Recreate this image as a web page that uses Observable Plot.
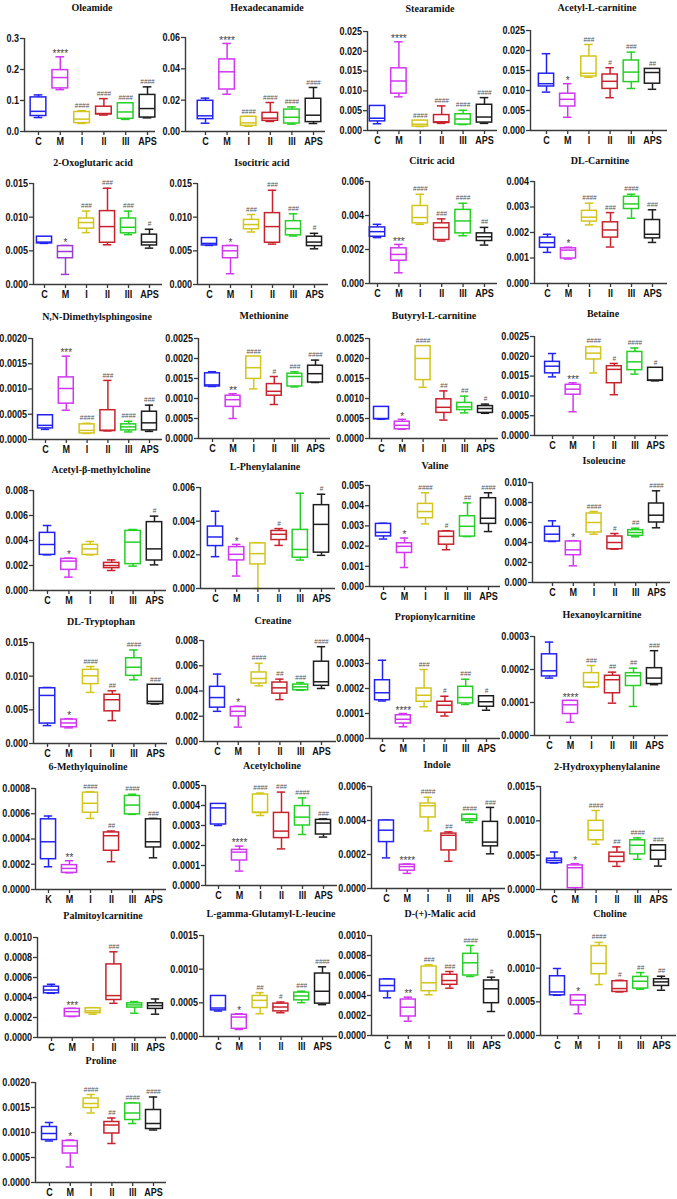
<!DOCTYPE html>
<html><head><meta charset="utf-8">
<script src="https://cdn.jsdelivr.net/npm/d3@7"></script>
<script src="https://cdn.jsdelivr.net/npm/@observablehq/plot@0.6"></script>
<style>
body{margin:0;background:#fff}
#root{position:relative;width:677px;height:1199px;overflow:hidden;background:#fff}
.title{position:absolute;transform:translate(-50%,-50%);font:bold 10px "Liberation Serif",serif;white-space:nowrap;color:#111}
</style></head>
<body><div id="root"></div>
<script>
// groups and colours
const groups = ["C","M","I","II","III","APS"];
const groupsK = ["K","M","I","II","III","APS"];
const groupColors = ["#2323f0","#d236f2","#d2c51c","#c8232d","#26d026","#1e1e1e"];

// each row: [min, q1, median, q3, max] for C, M, I, II, III, APS
const oleamide = [[0.045,0.050,0.065,0.110,0.118],[0.135,0.139,0.174,0.198,0.241],[0.026,0.027,0.040,0.063,0.067],[0.053,0.055,0.058,0.080,0.106],[0.039,0.041,0.063,0.091,0.091],[0.044,0.045,0.074,0.118,0.144]];
const oleamideSig = ["","****","####","####","####","####"];
const hexadecanamide = [[0.0053,0.0079,0.0100,0.0196,0.0213],[0.0238,0.0268,0.0381,0.0460,0.0562],[0.0034,0.0036,0.0055,0.0094,0.0096],[0.0064,0.0068,0.0085,0.0119,0.0185],[0.0047,0.0051,0.0091,0.0140,0.0157],[0.0051,0.0060,0.0104,0.0209,0.0281]];
const hexadecanamideSig = ["","****","####","####","####","####"];
const stearamide = [[0.0017,0.0023,0.0031,0.0062,0.0062],[0.0085,0.0093,0.0125,0.0157,0.0224],[0.0010,0.0010,0.0016,0.0025,0.0025],[0.0018,0.0019,0.0022,0.0039,0.0062],[0.0015,0.0015,0.0029,0.0041,0.0051],[0.0018,0.0020,0.0034,0.0065,0.0083]];
const stearamideSig = ["","****","####","####","####","####"];
const acetylLCarnitine = [[0.0096,0.0110,0.0117,0.0142,0.0192],[0.0033,0.0060,0.0078,0.0092,0.0117],[0.0133,0.0135,0.0143,0.0185,0.0215],[0.0082,0.0104,0.0123,0.0140,0.0157],[0.0105,0.0121,0.0146,0.0175,0.0196],[0.0103,0.0117,0.0145,0.0154,0.0154]];
const acetylLCarnitineSig = ["","*","###","#","###","##"];
const oxoglutaric = [[0.0061,0.0061,0.0063,0.0071,0.0071],[0.0015,0.0039,0.0049,0.0057,0.0058],[0.0077,0.0083,0.0092,0.0098,0.0109],[0.0059,0.0062,0.0086,0.0109,0.0143],[0.0074,0.0076,0.0085,0.0098,0.0109],[0.0054,0.0058,0.0063,0.0074,0.0082]];
const oxoglutaricSig = ["","*","###","###","###","#"];
const isocitric = [[0.0058,0.0058,0.0061,0.0069,0.0069],[0.0016,0.0039,0.0050,0.0057,0.0058],[0.0078,0.0082,0.0089,0.0096,0.0104],[0.0060,0.0062,0.0086,0.0106,0.0140],[0.0072,0.0073,0.0083,0.0094,0.0105],[0.0053,0.0057,0.0063,0.0071,0.0076]];
const isocitricSig = ["","*","###","###","###","#"];
const citric = [[0.0027,0.00275,0.00305,0.0033,0.00348],[0.00063,0.00134,0.00171,0.00207,0.0023],[0.00348,0.00354,0.00388,0.00456,0.00525],[0.0025,0.00256,0.00329,0.00354,0.0038],[0.00281,0.00295,0.00368,0.00433,0.00472],[0.00226,0.0025,0.00275,0.00295,0.0033]];
const citricSig = ["","***","####","###","####","##"];
const dlCarnitine = [[0.00122,0.0014,0.0016,0.0018,0.00193],[0.00096,0.00098,0.00131,0.00138,0.00142],[0.0023,0.00243,0.0026,0.00285,0.00315],[0.00143,0.0018,0.0021,0.0024,0.00278],[0.00256,0.00292,0.00312,0.0034,0.0035],[0.00161,0.00177,0.00193,0.00249,0.00289]];
const dlCarnitineSig = ["","*","####","###","####","###"];
const dimethylsphingosine = [[0.0002,0.00022,0.00028,0.00048,0.00048],[0.00058,0.00071,0.00101,0.00123,0.00165],[0.00012,0.00012,0.00018,0.0003,0.00032],[0.00017,0.00017,0.00018,0.00058,0.00117],[0.00015,0.00018,0.00025,0.0003,0.00036],[0.00016,0.00018,0.00033,0.00055,0.00068]];
const dimethylsphingosineSig = ["","***","####","###","####","###"];
const methionine = [[0.0013,0.0013,0.00134,0.00163,0.00167],[0.0005,0.00079,0.00097,0.00107,0.00112],[0.00124,0.00149,0.00177,0.00205,0.00205],[0.00085,0.00107,0.00118,0.00136,0.00155],[0.00129,0.0013,0.00155,0.00162,0.00167],[0.0014,0.0014,0.00162,0.00182,0.00196]];
const methionineSig = ["","**","####","#","###","####"];
const butyrylLCarnitine = [[0.00048,0.00048,0.0005,0.00079,0.00079],[0.00023,0.00023,0.00033,0.00042,0.00048],[0.00128,0.00146,0.002,0.00231,0.00231],[0.00046,0.00064,0.00078,0.00098,0.00119],[0.00064,0.00071,0.00079,0.00089,0.00106],[0.00063,0.00064,0.00075,0.00081,0.00086]];
const butyrylLCarnitineSig = ["","*","####","##","##","#"];
const betaine = [[0.00148,0.00157,0.00175,0.00186,0.00207],[0.0006,0.00103,0.00117,0.00128,0.00133],[0.00158,0.00192,0.00208,0.00223,0.00225],[0.00103,0.00132,0.00167,0.00175,0.00182],[0.00155,0.00165,0.00186,0.00211,0.00221],[0.00138,0.00138,0.0014,0.00171,0.00171]];
const betaineSig = ["","***","####","#","####","#"];
const acetylBetaMethylcholine = [[0.00285,0.00285,0.00368,0.00461,0.0052],[0.00107,0.00165,0.00235,0.00253,0.00259],[0.00285,0.00285,0.00333,0.00365,0.00392],[0.0016,0.00179,0.002,0.00221,0.00245],[0.00195,0.00211,0.00387,0.00477,0.00488],[0.00205,0.0024,0.00333,0.00547,0.00595]];
const acetylBetaMethylcholineSig = ["","*","","","","#"];
const lPhenylalanine = [[0.00189,0.00252,0.00306,0.00368,0.00459],[0.00074,0.00167,0.00203,0.00246,0.00262],[0,0.00143,0.00207,0.00268,0.00272],[0.00256,0.00288,0.00322,0.00342,0.00356],[0.00169,0.00183,0.00232,0.00348,0.00566],[0.00197,0.00213,0.00381,0.00495,0.0056]];
const lPhenylalanineSig = ["","*","","#","","#"];
const valine = [[0.00235,0.00248,0.00268,0.0031,0.00313],[0.00094,0.00166,0.00199,0.00214,0.0024],[0.0031,0.00338,0.00371,0.00409,0.00464],[0.00182,0.00207,0.00248,0.00272,0.00276],[0.00247,0.00247,0.00298,0.00348,0.00414],[0.00272,0.0031,0.00338,0.00437,0.00464]];
const valineSig = ["","*","####","#","##","####"];
const isoleucine = [[0.0041,0.0041,0.00483,0.00557,0.00617],[0.00167,0.00273,0.00327,0.0041,0.00417],[0.00483,0.005,0.006,0.0069,0.0071],[0.00333,0.00333,0.004,0.0046,0.0049],[0.00457,0.00467,0.005,0.00523,0.00543],[0.00547,0.006,0.00673,0.0079,0.00917]];
const isoleucineSig = ["","*","####","#","##","####"];
const dlTryptophan = [[0.00266,0.00296,0.00714,0.0082,0.00832],[0.00232,0.00241,0.00305,0.00355,0.00369],[0.00759,0.00882,0.01005,0.01094,0.01143],[0.0034,0.00478,0.0065,0.00724,0.00783],[0.00946,0.01005,0.01133,0.01266,0.01389],[0.00586,0.00586,0.00626,0.00872,0.00872]];
const dlTryptophanSig = ["","*","####","##","####","###"];
const creatine = [[0.00239,0.00268,0.00348,0.00433,0.00534],[0.00114,0.00199,0.00239,0.00273,0.00279],[0.00441,0.00459,0.00499,0.00547,0.00619],[0.00332,0.00379,0.00425,0.00467,0.00494],[0.00406,0.00406,0.00433,0.00451,0.00467],[0.0042,0.00441,0.00473,0.00632,0.00751]];
const creatineSig = ["","*","####","##","###","####"];
const propionylcarnitine = [[0.00015,0.000153,0.000183,0.000233,0.000313],[0.000047,0.00006,0.000077,0.000093,0.0001],[0.000127,0.000147,0.000173,0.0002,0.000276],[0.00009,0.000103,0.000133,0.000147,0.000169],[0.000136,0.00014,0.000164,0.000207,0.000237],[0.000113,0.000127,0.000147,0.000169,0.000169]];
const propionylcarnitineSig = ["","****","###","#","###","#"];
const hexanoylcarnitine = [[0.000174,0.000179,0.000196,0.000246,0.000283],[0.00004,0.000065,0.000093,0.000105,0.000106],[0.000146,0.000146,0.000161,0.000189,0.000212],[0.000098,0.000128,0.000169,0.000181,0.000192],[0.000088,0.00015,0.000181,0.000189,0.000204],[0.000154,0.000156,0.000174,0.000204,0.000257]];
const hexanoylcarnitineSig = ["","****","###","##","##","###"];
const methylquinoline = [[0.00018,0.00024,0.000378,0.000556,0.000582],[0.000132,0.000132,0.000167,0.000193,0.000228],[0.000563,0.000608,0.000683,0.000767,0.000775],[0.00022,0.000307,0.000426,0.000452,0.000463],[0.000595,0.000595,0.000669,0.000741,0.000754],[0.000251,0.000333,0.000378,0.000556,0.000563]];
const methylquinolineSig = ["","**","####","##","####","###"];
const acetylcholine = [[0.0003,0.000305,0.000388,0.000408,0.000408],[0.000072,0.000125,0.000167,0.000178,0.000197],[0.00035,0.000362,0.000367,0.000455,0.000462],[0.000183,0.000237,0.000272,0.000363,0.000467],[0.000255,0.0003,0.000342,0.000397,0.000438],[0.000242,0.000255,0.000312,0.000328,0.000333]];
const acetylcholineSig = ["","****","####","###","####","###"];
const indole = [[0.00018,0.000273,0.000343,0.0004,0.000402],[0.000089,0.000105,0.000129,0.00014,0.000144],[0.000339,0.000418,0.000487,0.0005,0.000537],[0.00016,0.000224,0.000313,0.000323,0.000333],[0.000388,0.000398,0.00041,0.000434,0.000436],[0.000204,0.000248,0.000273,0.000392,0.000477]];
const indoleSig = ["","****","####","##","####","###"];
const hydroxyphenylalanine = [[0.000385,0.000385,0.000424,0.000449,0.000546],[0,0.00002,0.000317,0.000351,0.000376],[0.000659,0.000717,0.000863,0.001,0.00115],[0.000337,0.0004,0.000483,0.000537,0.00062],[0.000439,0.000512,0.000644,0.000717,0.000751],[0.000341,0.000434,0.000571,0.000644,0.000644]];
const hydroxyphenylalanineSig = ["","*","####","##","####","###"];
const palmitoylcarnitine = [[0.000442,0.000442,0.000475,0.000508,0.000532],[0.000209,0.000209,0.000259,0.000286,0.000292],[0.000233,0.000243,0.000266,0.000292,0.000299],[0.000342,0.000375,0.000419,0.000731,0.000857],[0.000243,0.000299,0.000326,0.000342,0.000359],[0.000233,0.000286,0.000319,0.000342,0.000385]];
const palmitoylcarnitineSig = ["","***","","###","",""];
const glutamylLeucine = [[0.000378,0.000388,0.000423,0.000602,0.000602],[0.000104,0.000114,0.000289,0.000323,0.000338],[0.000338,0.000423,0.000537,0.000602,0.000652],[0.000353,0.000373,0.000438,0.000488,0.000512],[0.000502,0.000537,0.000602,0.000652,0.000672],[0.000473,0.000488,0.000672,0.000935,0.001035]];
const glutamylLeucineSig = ["","*","##","#","###","####"];
const malicAcid = [[0.000377,0.00044,0.0005,0.00056,0.000567],[0.000143,0.00019,0.000283,0.00036,0.000383],[0.000407,0.000443,0.000527,0.00069,0.000707],[0.000473,0.000507,0.00055,0.000607,0.00064],[0.00059,0.0006,0.000727,0.000817,0.0009],[0.00024,0.000323,0.000467,0.00055,0.000583]];
const malicAcidSig = ["","**","###","###","####","#"];
const choline = [[0.000597,0.000597,0.000647,0.00088,0.000995],[0.000323,0.000448,0.000522,0.000597,0.000607],[0.000756,0.00091,0.00107,0.001328,0.001383],[0.000647,0.000647,0.000697,0.000806,0.00082],[0.000687,0.000697,0.000806,0.00087,0.000935],[0.000672,0.000736,0.000796,0.000836,0.00088]];
const cholineSig = ["","*","####","#","##","##"];
const proline = [[0.00083,0.00085,0.00098,0.00111,0.0012],[0.00031,0.00058,0.00073,0.00083,0.00085],[0.00139,0.00149,0.00158,0.00168,0.00176],[0.00078,0.00098,0.00115,0.00121,0.00129],[0.00118,0.00125,0.00139,0.00158,0.00159],[0.00105,0.00107,0.00118,0.00145,0.00171]];
const prolineSig = ["","*","####","##","####","####"];

// titles, y-axis maxima and tick steps
const titles = ["Oleamide","Hexadecanamide","Stearamide","Acetyl-L-carnitine","2-Oxoglutaric acid","Isocitric acid","Citric acid","DL-Carnitine","N,N-Dimethylsphingosine","Methionine","Butyryl-L-carnitine","Betaine","Acetyl-β-methylcholine","L-Phenylalanine","Valine","Isoleucine","DL-Tryptophan","Creatine","Propionylcarnitine","Hexanoylcarnitine","6-Methylquinoline","Acetylcholine","Indole","2-Hydroxyphenylalanine","Palmitoylcarnitine","L-gamma-Glutamyl-L-leucine","D-(+)-Malic acid","Choline","Proline"];
const yMax = [0.3,0.06,0.025,0.025,0.015,0.015,0.006,0.004,0.002,0.0025,0.0025,0.0025,0.008,0.006,0.005,0.01,0.015,0.008,0.0004,0.0003,0.0008,0.0005,0.0006,0.0015,0.001,0.0015,0.001,0.0015,0.002];
const yStep = [0.1,0.02,0.005,0.005,0.005,0.005,0.002,0.001,0.0005,0.0005,0.0005,0.0005,0.002,0.002,0.001,0.002,0.005,0.002,0.0001,0.0001,0.0002,0.0001,0.0002,0.0005,0.0002,0.0005,0.0002,0.0005,0.0005];
const series = [oleamide,hexadecanamide,stearamide,acetylLCarnitine,oxoglutaric,isocitric,citric,dlCarnitine,dimethylsphingosine,methionine,butyrylLCarnitine,betaine,acetylBetaMethylcholine,lPhenylalanine,valine,isoleucine,dlTryptophan,creatine,propionylcarnitine,hexanoylcarnitine,methylquinoline,acetylcholine,indole,hydroxyphenylalanine,palmitoylcarnitine,glutamylLeucine,malicAcid,choline,proline];
const sigs = [oleamideSig,hexadecanamideSig,stearamideSig,acetylLCarnitineSig,oxoglutaricSig,isocitricSig,citricSig,dlCarnitineSig,dimethylsphingosineSig,methionineSig,butyrylLCarnitineSig,betaineSig,acetylBetaMethylcholineSig,lPhenylalanineSig,valineSig,isoleucineSig,dlTryptophanSig,creatineSig,propionylcarnitineSig,hexanoylcarnitineSig,methylquinolineSig,acetylcholineSig,indoleSig,hydroxyphenylalanineSig,palmitoylcarnitineSig,glutamylLeucineSig,malicAcidSig,cholineSig,prolineSig];

// layout (page pixels): axis x, axis end x, first box x, last box x, top tick y, zero y, title x, title y
const layout = [
 [24,155,38,147,38,131,92,7],[185,325,205,313,37,131,267,7],[367,497,377,484,31,130,430,8],[530,667,546,652,30,130,597,7],
 [33,162,44,149,183,284,93,162],[197,328,209,314,183,284,262,162],[369,497,377,484,181,283,432,160],[534,667,547,652,181,283,600,160],
 [32,162,45,149,338,439,97,316],[198,330,212,315,338,438,264,315],[369,498,381,485,338,438,434,315],[534,668,552,655,336,435,603,313],
 [33,166,47,154,490,590,101,469],[200,335,215,321,487,588,265,466],[369,500,383,488,485,586,435,465],[532,670,552,656,482,582,604,460],
 [33,167,47,155,642,743,101,621],[203,336,217,321,640,741,273,620],[369,500,382,486,638,738,435,616],[534,668,549,654,636,735,602,614],
 [35,166,48,153,788,889,88,766],[205,337,218,323,785,885,272,765],[371,505,386,490,786,888,437,764],[540,672,554,658,786,889,607,766],
 [37,166,51,155,937,1037,103,915],[203,337,218,322,935,1036,271,913],[371,505,387,491,935,1035,440,913],[540,676,557,661,934,1035,610,913],
 [35,166,49,153,1082,1182,101,1060]
];

const tickFont = "'Liberation Sans', Arial, sans-serif";
const tickSize = 10.5;
const squeeze = 0.86;

const root = document.getElementById("root");
const mL = 44, mR = 4, mT = 22, mB = 24;
const axisColor = "#3a3a3a";

titles.forEach((title, k) => {
  const [x0, x1, cx, ax, yTop, y0, tx, ty] = layout[k];
  const step = (ax - cx) / 5;
  const d0 = -(cx - x0) / step, d1 = 5 + (x1 - ax) / step;
  const W = mL + (x1 - x0) + mR, H = mT + (y0 - yTop) + mB;
  const labels = k === 20 ? groupsK : groups;
  const colors = groupColors.slice();
  if (k === 4) colors[1] = "#9a3cd0";
  const rows = series[k].map((v, i) => ({i, min: v[0], q1: v[1], med: v[2], q3: v[3], max: v[4], sig: sigs[k][i], color: colors[i]}));
  const top = yMax[k], st = yStep[k];
  const ticks = Array.from({length: Math.round(top / st) + 1}, (_, j) => j * st);
  const fmt = d3.format("." + d3.precisionFixed(st) + "f");
  const bw = 0.36, cw = 0.2;
  const sw = 1.5;
  const svg = Plot.plot({
    width: W, height: H, marginLeft: mL, marginRight: mR, marginTop: mT, marginBottom: mB,
    x: {domain: [d0, d1]},
    y: {domain: [0, top]},
    color: {type: "identity"},
    style: {overflow: "visible", background: "transparent", fontFamily: tickFont, fontSize: tickSize + "px"},
    marks: [
      Plot.ruleX(rows, {x: "i", y1: "min", y2: "q1", stroke: "color", strokeWidth: sw}),
      Plot.ruleX(rows, {x: "i", y1: "q3", y2: "max", stroke: "color", strokeWidth: sw}),
      Plot.ruleY(rows, {y: "max", x1: d => d.i - cw, x2: d => d.i + cw, stroke: "color", strokeWidth: sw}),
      Plot.ruleY(rows, {y: "min", x1: d => d.i - cw, x2: d => d.i + cw, stroke: "color", strokeWidth: sw}),
      Plot.rect(rows, {x1: d => d.i - bw, x2: d => d.i + bw, y1: "q1", y2: "q3", stroke: "color", fill: "white", strokeWidth: sw}),
      Plot.ruleY(rows, {y: "med", x1: d => d.i - bw, x2: d => d.i + bw, stroke: "color", strokeWidth: sw}),
      Plot.text(rows.filter(d => d.sig.startsWith("*")), {x: "i", y: "max", text: "sig", dy: -3, fontSize: 10, fill: "#444", lineAnchor: "middle"}),
      Plot.text(rows.filter(d => d.sig.startsWith("#")), {x: "i", y: "max", text: "sig", dy: -5, fontSize: 6.5, fill: "#555", lineAnchor: "middle"}),
      Plot.ruleX([d0], {stroke: axisColor, strokeWidth: 1.4}),
      Plot.ruleY([0], {stroke: axisColor, strokeWidth: 1.4}),
      Plot.axisY({ticks, tickFormat: fmt, tickSize: 4, tickPadding: 1.5, stroke: axisColor, strokeWidth: 1.3, fill: "#111", fontWeight: "bold", fontSize: tickSize, label: null}),
      Plot.axisX({ticks: [0,1,2,3,4,5], tickFormat: i => labels[i], tickSize: 4, tickPadding: 2, stroke: axisColor, strokeWidth: 1.3, fill: "#111", fontWeight: "bold", fontSize: tickSize, label: null})
    ]
  });
  svg.style.position = "absolute";
  svg.style.left = (x0 - mL) + "px";
  svg.style.top = (yTop - mT) + "px";
  svg.style.maxWidth = "none";
  root.appendChild(svg);
  // condense the tick labels horizontally, like the narrow face of the original
  svg.querySelectorAll('g[aria-label="y-axis tick label"] text, g[aria-label="x-axis tick label"] text').forEach(t => {
    const len = t.getComputedTextLength();
    if (len > 0) {
      t.setAttribute("textLength", (len * squeeze).toFixed(2));
      t.setAttribute("lengthAdjust", "spacingAndGlyphs");
    }
  });
  const t = document.createElement("div");
  t.className = "title";
  t.textContent = title;
  t.style.left = tx + "px";
  t.style.top = ty + "px";
  root.appendChild(t);
});
</script>
</body></html>
